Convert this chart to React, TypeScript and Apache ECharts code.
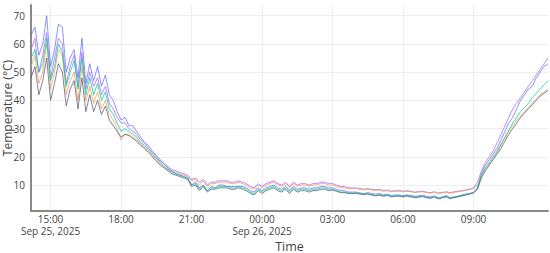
import React, { useEffect, useRef } from "react";
import * as echarts from "echarts";

const START = new Date(2025, 8, 25, 14, 10).getTime();
const STEP_MIN = 10;
const POINT_COUNT = 133;
const times: number[] = Array.from({ length: POINT_COUNT }, (_, i) => START + i * STEP_MIN * 60000);

const xTicks: number[] = [
  new Date(2025, 8, 25, 15, 0).getTime(),
  new Date(2025, 8, 25, 18, 0).getTime(),
  new Date(2025, 8, 25, 21, 0).getTime(),
  new Date(2025, 8, 26, 0, 0).getTime(),
  new Date(2025, 8, 26, 3, 0).getTime(),
  new Date(2025, 8, 26, 6, 0).getTime(),
  new Date(2025, 8, 26, 9, 0).getTime(),
];
const dateTicks: number[] = [xTicks[0], xTicks[3]];
const yTicks: number[] = [10, 20, 30, 40, 50, 60, 70];

const seriesNames = ["Sensor 1", "Sensor 2", "Sensor 3", "Sensor 4", "Sensor 5"];

const sensor1: number[] = [
  63, 66, 56, 60, 70, 52, 58, 67, 66, 50, 55, 58, 48, 62, 46, 53, 47, 52, 45, 49, 42, 40, 36,
  33, 34, 31, 31, 29, 27, 25, 24, 22, 20.5, 19, 17.5, 16, 15, 14, 13.5, 13, 12.5,
  10, 11, 9, 10, 8, 9.5,
  9, 10, 10, 9.5, 9.5, 9.5, 9.5, 9.5, 9, 8, 7.5, 9,
  8, 9, 9.5, 10, 9, 8.5, 9.5, 8, 9.5, 8.5, 9, 9, 8.5, 9, 9, 9.5, 9.5, 9,
  9, 8.5, 8, 8, 7.5, 7.5, 7.5, 7.2, 7, 7.3, 7, 6.8, 7, 6.5, 6.8, 6.3, 6.5, 6.5,
  6.2, 6.5, 6.3, 6.0, 6.2, 6.4, 6.0, 5.8, 6.2, 5.5, 5.8, 6.3, 5.5, 5.8, 6.0, 6.5, 6.8, 7.0, 7.3,
  9, 14, 17, 19, 21, 23, 26, 29, 32, 34, 37, 40, 42, 44, 45, 48, 50, 52, 53,
];
const sensor2: number[] = [
  58, 62, 50, 56, 64, 48, 55, 62, 60, 46, 52, 56, 45, 57, 44, 50, 45, 48, 42, 45, 39, 37, 34,
  32, 32, 30, 29, 28, 26, 25, 23, 21.5, 20, 18.5, 17.5, 16.5, 15.5, 15, 14.5, 14, 13.5,
  12, 12.5, 11, 12, 10, 11,
  11, 11.5, 11.5, 11.5, 11, 11, 11.5, 11, 10.5, 9.5, 9, 10.5,
  9.5, 10.5, 11, 11.5, 10.5, 10, 11, 9.5, 11, 10, 10.5, 10.5, 10, 10.5, 10.5, 11, 11, 10.5,
  10.5, 10, 9.5, 9.5, 9, 9, 9, 8.8, 8.5, 8.7, 8.5, 8.3, 8.5, 8, 8.2, 7.8, 8, 8,
  7.8, 8, 7.8, 7.5, 7.7, 7.8, 7.5, 7.3, 7.6, 7.2, 7.4, 7.6, 7.3, 7.6, 7.8, 8, 8.3, 8.6, 9,
  11, 15, 18, 20, 22, 25, 28, 31, 34, 37, 39, 41, 43, 45, 47, 49, 51, 53, 55,
];
const sensor3: number[] = [
  52, 56, 46, 50, 60, 44, 50, 58, 56, 42, 47, 50, 40, 52, 40, 45, 39, 43, 37, 40, 35, 33, 30,
  26, 28, 28, 27, 26, 24.5, 23.5, 22, 20.5, 19, 17.5, 16.5, 15.5, 15, 14.5, 14, 13.5, 13,
  11.5, 12, 10, 11.5, 9.5, 10.5,
  10.5, 11, 11, 11, 10.5, 10.5, 11, 10.5, 10, 9, 8.5, 10,
  9, 10, 10.5, 11, 10, 9.5, 10.5, 9, 10.5, 9.5, 10, 10, 9.5, 10, 10, 10.5, 10.5, 10,
  10, 9.5, 9, 9, 8.7, 8.7, 8.7, 8.5, 8.3, 8.5, 8.2, 8, 8.2, 7.8, 8, 7.6, 7.8, 7.8,
  7.6, 7.8, 7.6, 7.3, 7.5, 7.6, 7.3, 7.1, 7.4, 7, 7.2, 7.4, 7.1, 7.4, 7.6, 7.8, 8.1, 8.4, 8.8,
  10, 13, 15.5, 17.5, 19.5, 21.5, 24, 26.5, 29, 31, 33, 34.5, 36, 37.5, 39, 40.5, 42, 43, 44,
];
const sensor4: number[] = [
  55, 58, 50, 53, 62, 47, 52, 60, 57, 45, 50, 54, 44, 55, 42, 48, 42, 46, 40, 43, 37, 35, 32,
  29, 30, 29, 28, 27, 25, 24, 22.5, 21, 19.5, 18, 16.5, 15.5, 14.5, 14, 13.5, 13, 12.5,
  10, 10.5, 8.5, 10, 8, 9,
  9, 9.5, 9.5, 9.5, 9, 9, 9.5, 9, 8.5, 7.5, 7, 8.5,
  7.5, 8.5, 9, 9.5, 8.5, 8, 9, 7.5, 9, 8, 8.5, 8.5, 8, 8.5, 8.5, 9, 9, 8.5,
  8.5, 8, 7.5, 7.5, 7.2, 7.2, 7.2, 7, 6.8, 7, 6.6, 6.4, 6.6, 6.2, 6.5, 6, 6.2, 6.2,
  6, 6.3, 6, 5.7, 5.9, 6.1, 5.7, 5.5, 5.9, 5.3, 5.6, 6, 5.4, 5.7, 6, 6.3, 6.6, 7, 7.4,
  9, 13.5, 16, 18, 20, 22, 24.5, 27, 29.5, 32, 34, 36, 37.5, 39, 41, 42.5, 44, 45.5, 47,
];
const sensor5: number[] = [
  48, 52, 42, 47, 55, 40, 46, 53, 50, 38, 44, 47, 37, 48, 36, 42, 36, 40, 35, 38, 33, 31, 29,
  27, 28, 27.5, 26.5, 25.5, 24, 23, 21.5, 20, 18.5, 17, 16, 15, 14, 13.5, 13, 12.5, 12,
  9.5, 10, 8, 9.5, 7.5, 8.5,
  8.5, 9, 9, 9, 8.5, 8.5, 9, 8.5, 8, 7, 6.5, 8,
  7, 8, 8.5, 9, 8, 7.5, 8.5, 7, 8.5, 7.5, 8, 8, 7.5, 8, 8, 8.5, 8.5, 8,
  8.2, 7.8, 7.3, 7.3, 7, 7, 7, 6.8, 6.6, 6.8, 6.4, 6.2, 6.4, 6, 6.3, 5.8, 6, 6,
  5.8, 6.1, 5.8, 5.5, 5.7, 5.9, 5.5, 5.3, 5.7, 5.1, 5.4, 5.8, 5.2, 5.5, 5.8, 6.1, 6.4, 6.8, 7.2,
  8.5, 12.5, 15, 17, 19, 21, 23, 25.5, 28, 30, 32, 34, 35.5, 37, 38.5, 40, 41.5, 42.5, 43.5,
];

const allValues = [sensor1, sensor2, sensor3, sensor4, sensor5];
const colors = ["#636efa", "#ab63fa", "#e8a05a", "#00cc96", "#5a5a7a"];

const MONTHS = ["Jan", "Feb", "Mar", "Apr", "May", "Jun", "Jul", "Aug", "Sep", "Oct", "Nov", "Dec"];
const pad = (n: number) => (n < 10 ? "0" + n : "" + n);

export default function App() {
  const ref = useRef<HTMLDivElement>(null);
  useEffect(() => {
    if (!ref.current) return;
    const chart = echarts.init(ref.current, null, { renderer: "svg" });
    const font = "'Open Sans', verdana, arial, sans-serif";
    chart.setOption({
      animation: false,
      backgroundColor: "#ffffff",
      grid: { left: 31, right: 2, top: 5, bottom: 42, containLabel: false, outerBoundsMode: "none" },
      xAxis: [
        {
          type: "value",
          min: times[0],
          max: times[times.length - 1],
          name: "Time",
          nameLocation: "middle",
          nameGap: 28.5,
          nameMoveOverlap: false,
          nameTextStyle: { color: "#444", fontSize: 12.5, fontFamily: font },
          axisLine: { show: true, lineStyle: { color: "#888", width: 2 } },
          axisTick: { show: false, customValues: xTicks },
          axisLabel: {
            customValues: xTicks,
            color: "#444",
            fontSize: 10,
            fontFamily: font,
            margin: 2.5,
            hideOverlap: false,
            formatter: (v: number) => {
              const d = new Date(v);
              return pad(d.getHours()) + ":" + pad(d.getMinutes());
            },
          },
          splitLine: { show: true, lineStyle: { color: "#eeeeee", width: 1 } },
        },
        {
          type: "value",
          position: "bottom",
          min: times[0],
          max: times[times.length - 1],
          axisLine: { show: false },
          axisTick: { show: false, customValues: dateTicks },
          splitLine: { show: false },
          axisLabel: {
            customValues: dateTicks,
            color: "#444",
            fontSize: 10,
            fontFamily: font,
            margin: 15,
            hideOverlap: false,
            formatter: (v: number) => {
              const d = new Date(v);
              return MONTHS[d.getMonth()] + " " + d.getDate() + ", " + d.getFullYear();
            },
          },
        },
      ],
      yAxis: {
        type: "value",
        min: 0.8,
        max: 73.8,
        name: "Temperature (°C)",
        nameLocation: "middle",
        nameGap: 18,
        nameMoveOverlap: false,
        nameTextStyle: { color: "#444", fontSize: 12, fontFamily: font },
        axisLine: { show: true, lineStyle: { color: "#888", width: 2 } },
        axisTick: { show: false, customValues: yTicks },
        axisLabel: { customValues: yTicks, color: "#444", fontSize: 10, fontFamily: font, margin: 6 },
        splitLine: { show: true, lineStyle: { color: "#eeeeee", width: 1 } },
      },
      series: allValues.map((vals, k) => ({
        name: seriesNames[k],
        type: "line",
        xAxisIndex: 0,
        showSymbol: false,
        symbol: "none",
        data: vals.map((v, i) => [times[i], v]),
        lineStyle: { color: colors[k], width: 1, opacity: 0.75 },
        itemStyle: { color: colors[k] },
        z: 2 + k,
      })),
    });
    return () => chart.dispose();
  }, []);
  return (
    <div
      ref={ref}
      style={{ position: "fixed", left: 0, top: 0, width: 550, height: 253, background: "#fff" }}
    />
  );
}
